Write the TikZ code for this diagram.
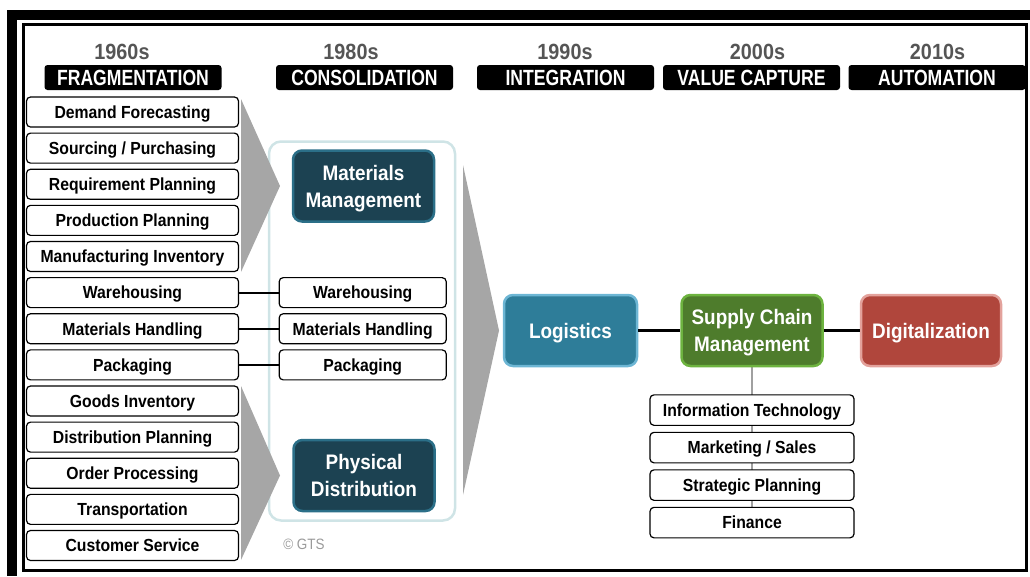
\documentclass[tikz,border=0pt]{standalone}
\usepackage{fontspec}
\setmainfont{Liberation Sans}[FakeStretch=0.9]
\newfontfamily\hdrfont{Liberation Sans}[FakeStretch=0.8]
\usetikzlibrary{positioning, backgrounds}
\definecolor{yeargray}{HTML}{555555}
\definecolor{chevgray}{HTML}{A6A6A6}
\definecolor{trunkgray}{HTML}{A0A0A0}
\definecolor{consline}{HTML}{CFE4E6}
\definecolor{mmfill}{HTML}{1C4252}
\definecolor{mmline}{HTML}{2B6F88}
\definecolor{logfill}{HTML}{2E7D99}
\definecolor{logline}{HTML}{6DB6D4}
\definecolor{scmfill}{HTML}{4E7C2C}
\definecolor{scmline}{HTML}{6DB33F}
\definecolor{digfill}{HTML}{B0463C}
\definecolor{digline}{HTML}{E3A29C}
\definecolor{creditgray}{HTML}{9A9A9A}
\tikzset{%
	item/.style={draw, rectangle, rounded corners=4pt, line width=1.2pt, fill=white,%
		minimum width=212pt, minimum height=30pt, inner sep=0pt, text height=12.6pt, text depth=0pt,%
		font=\fontsize{17.5}{20}\selectfont\bfseries},
	sub/.style={item, minimum width=167pt},
	dept/.style={item, minimum width=204pt, minimum height=30.5pt},
	hdr/.style={rectangle, fill=black, rounded corners=3pt, minimum width=177pt, minimum height=25pt,%
		inner sep=0pt, text height=15.8pt, text depth=0pt, text=white, font=\hdrfont\fontsize{22}{24}\selectfont\bfseries},
	year/.style={text=yeargray, inner sep=0pt, font=\fontsize{22}{24}\selectfont\bfseries},
	stage/.style={draw, rectangle, rounded corners=9pt, line width=2.5pt, minimum height=71pt,%
		inner sep=0pt, align=center, text depth=0pt, text=white, font=\fontsize{21}{27}\selectfont\bfseries},
	connector/.style={line width=2pt},
	link/.style={line width=2.5pt},
	trunk/.style={line width=2pt, draw=trunkgray},
	chev/.style={fill=chevgray},
	rim/.style={line width=3pt},
	credit/.style={text=creditgray, font=\fontsize{15}{17}\selectfont}
}
\begin{document}
\begin{tikzpicture}[x=1pt, y=-1pt]
	\useasboundingbox (0,0) rectangle (1030,576);
	\fill (7,10) rectangle (1030,20);
	\fill (7,10) rectangle (17,576);
	\draw[rim] (23.5,24.5) rectangle (1026.5,570);

	\foreach \yr/\era/\yx/\hx in {1960s/FRAGMENTATION/122/133, 1980s/CONSOLIDATION/351/364.5,%
		1990s/INTEGRATION/565/565.5, 2000s/VALUE CAPTURE/757.5/751.5, 2010s/AUTOMATION/937.5/937}
	{
		\node[year] (y\yr) at (\yx,52) {\yr};
		\node[hdr] (h\yr) at (\hx,77.5) {\era};
	}

	\foreach \t [count=\i] in {Demand Forecasting, Sourcing / Purchasing, Requirement Planning,%
		Production Planning, Manufacturing Inventory, Warehousing, Materials Handling, Packaging,%
		Goods Inventory, Distribution Planning, Order Processing, Transportation, Customer Service}
		\node[item] (f\i) at (132.5,{112+36.125*(\i-1)}) {\t};

	\node[sub, right=39.5pt of f6] (w2)  {Warehousing};
	\node[sub, right=39.5pt of f7] (mh2) {Materials Handling};
	\node[sub, right=39.5pt of f8] (pk2) {Packaging};

	\node[stage, fill=mmfill, draw=mmline, minimum width=141pt] (mm) at (363.5,186)   {Materials\\Management};
	\node[stage, fill=mmfill, draw=mmline, minimum width=141pt] (pd) at (364,475.5)   {Physical\\Distribution};
	\node[stage, fill=logfill, draw=logline, minimum width=133pt] (log) at (570.5,330.5) {Logistics};
	\node[stage, fill=scmfill, draw=scmline, minimum width=141pt, right=42pt of log] (scm) {Supply Chain\\Management};
	\node[stage, fill=digfill, draw=digline, minimum width=140pt, right=36pt of scm] (dig) {Digitalization};

	\node[dept, below=27pt of scm] (it)  {Information Technology};
	\node[dept, below=5.8pt of it] (mk)  {Marketing / Sales};
	\node[dept, below=5.8pt of mk] (sp)  {Strategic Planning};
	\node[dept, below=5.8pt of sp] (fin) {Finance};

	\node[credit] (gts) at (304,544) {© GTS};

	\draw[connector] (f6) -- (w2);
	\draw[connector] (f7) -- (mh2);
	\draw[connector] (f8) -- (pk2);
	\draw[link] (log) -- (scm);
	\draw[link] (scm) -- (dig);

	\begin{scope}[on background layer]
		\node[draw=consline, line width=2.5pt, rounded corners=12pt, minimum width=186pt, minimum height=379pt] (cons) at (362,331) {};
		\fill[chev] (241,99) -- (280,186) -- (241,272) -- cycle;
		\fill[chev] (241,386) -- (280,475.5) -- (241,560) -- cycle;
		\fill[chev] (463,165) -- (499,330.5) -- (463,495) -- cycle;
		\draw[trunk] (scm) -- (fin);
	\end{scope}
\end{tikzpicture}
\end{document}
